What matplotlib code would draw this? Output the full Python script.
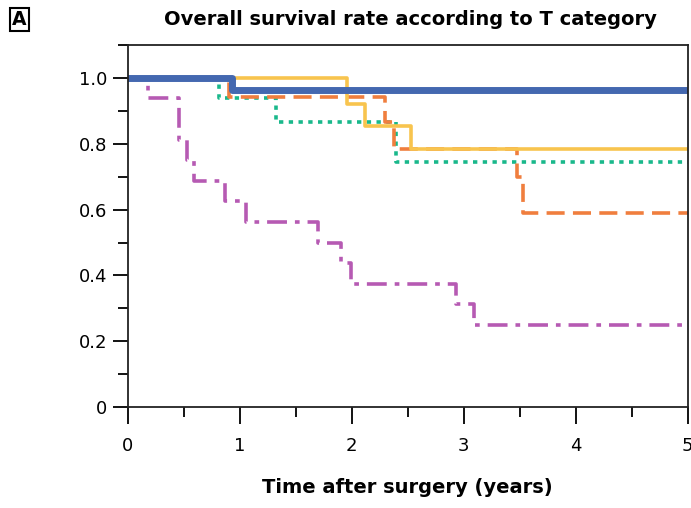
import numpy as np
import matplotlib
matplotlib.use("Agg")
from matplotlib import pyplot as plt
from matplotlib.ticker import MultipleLocator, FixedLocator

# survival curves (time in years, survival fraction)
t_blue = [0, 0.93, 5]
s_blue = [1.0, 0.965, 0.965]

t_yellow = [0, 1.96, 2.12, 2.53, 5]
s_yellow = [1.0, 0.92, 0.855, 0.785, 0.785]

t_orange = [0, 0.9, 2.3, 2.38, 3.48, 3.53, 5]
s_orange = [1.0, 0.942, 0.865, 0.785, 0.70, 0.59, 0.59]

t_green = [0, 0.81, 1.32, 2.4, 5]
s_green = [1.0, 0.94, 0.865, 0.745, 0.745]

t_magenta = [0, 0.18, 0.46, 0.53, 0.59, 0.87, 1.06, 1.70, 1.90, 1.99, 2.93, 3.09, 5]
s_magenta = [1.0, 0.94, 0.8125, 0.75, 0.6875, 0.625, 0.5625, 0.50, 0.4375, 0.375, 0.3125, 0.25, 0.25]

y_ticks = [0, 0.2, 0.4, 0.6, 0.8, 1.0]
y_labels = ["0", "0.2", "0.4", "0.6", "0.8", "1.0"]

plt.rcParams['font.family'] = ['DejaVu Sans']

fig = plt.figure(figsize=(6.91, 5.08), dpi=100)
ax = fig.add_axes([0.185, 0.199, 0.810, 0.712])

ax.step(t_magenta, s_magenta, where='post', color='#b65ab3', lw=2.6,
        dashes=(5.5, 2.2, 1.3, 2.2))
ax.step(t_green, s_green, where='post', color='#19b88b', lw=2.6,
        dashes=(1.2, 1.5))
ax.step(t_orange, s_orange, where='post', color='#f07e3e', lw=2.6,
        dashes=(5, 2.3))
ax.step(t_yellow, s_yellow, where='post', color='#f8c44e', lw=2.6)
ax.step(t_blue, s_blue, where='post', color='#4468b0', lw=5.0)

ax.set_xlim(0, 5)
ax.set_ylim(0, 1.1)

ax.xaxis.set_major_locator(MultipleLocator(1))
ax.xaxis.set_minor_locator(MultipleLocator(0.5))
ax.yaxis.set_major_locator(FixedLocator(y_ticks))
ax.set_yticklabels(y_labels)
ax.yaxis.set_minor_locator(FixedLocator([0.1, 0.3, 0.5, 0.7, 0.9, 1.1]))

ax.tick_params(axis='x', which='major', direction='out', length=12, width=1.3,
               pad=10, labelsize=13)
ax.tick_params(axis='x', which='minor', direction='out', length=7, width=1.3)
ax.tick_params(axis='y', which='major', direction='out', length=11, width=1.3,
               pad=4, labelsize=13)
ax.tick_params(axis='y', which='minor', direction='out', length=7, width=1.3)
for sp in ax.spines.values():
    sp.set_linewidth(1.3)
    sp.set_color('#222222')

ax.set_xlabel("Time after surgery (years)", fontsize=14, fontweight='bold',
              labelpad=16)
fig.text(0.594, 0.962, "Overall survival rate according to T category",
         ha='center', va='center', fontsize=14, fontweight='bold')
fig.text(0.028, 0.962, "A", ha='center', va='center', fontsize=13.5,
         fontweight='bold',
         bbox=dict(boxstyle='square,pad=0.12', fc='white', ec='black', lw=1.5))

fig.savefig("out.png", dpi=100)
